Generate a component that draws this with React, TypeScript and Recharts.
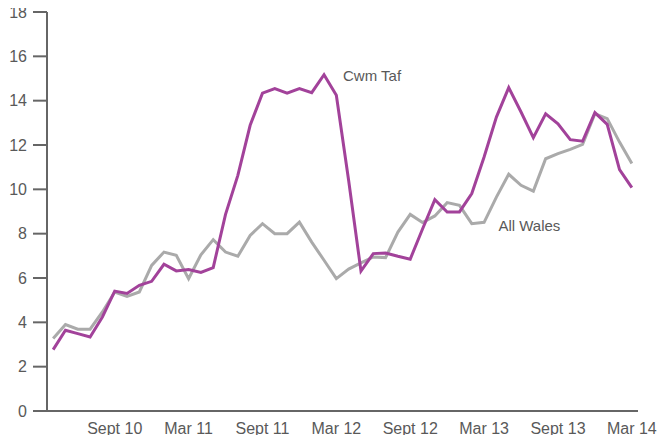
import React from 'react'
import { LineChart, Line, XAxis, YAxis } from 'recharts'

// Apr 2010 .. Mar 2014, monthly
const months = [
  'Apr 10', 'May 10', 'Jun 10', 'Jul 10', 'Aug 10', 'Sep 10', 'Oct 10', 'Nov 10', 'Dec 10', 'Jan 11', 'Feb 11', 'Mar 11',
  'Apr 11', 'May 11', 'Jun 11', 'Jul 11', 'Aug 11', 'Sep 11', 'Oct 11', 'Nov 11', 'Dec 11', 'Jan 12', 'Feb 12', 'Mar 12',
  'Apr 12', 'May 12', 'Jun 12', 'Jul 12', 'Aug 12', 'Sep 12', 'Oct 12', 'Nov 12', 'Dec 12', 'Jan 13', 'Feb 13', 'Mar 13',
  'Apr 13', 'May 13', 'Jun 13', 'Jul 13', 'Aug 13', 'Sep 13', 'Oct 13', 'Nov 13', 'Dec 13', 'Jan 14', 'Feb 14', 'Mar 14',
]

const cwmTaf = [
  2.77, 3.64, 3.49, 3.34, 4.24, 5.41, 5.3, 5.67, 5.85, 6.62, 6.32, 6.38,
  6.25, 6.47, 8.87, 10.63, 12.89, 14.34, 14.54, 14.34, 14.54, 14.36, 15.17, 14.24,
  10.4, 6.31, 7.1, 7.13, 6.98, 6.85, 8.21, 9.53, 8.98, 8.98, 9.81, 11.46,
  13.26, 14.59, 13.49, 12.33, 13.41, 12.96, 12.24, 12.17, 13.46, 12.93, 10.89, 10.08,
]

const allWales = [
  3.27, 3.9, 3.69, 3.69, 4.47, 5.37, 5.17, 5.37, 6.57, 7.17, 7.02, 5.97,
  7.05, 7.73, 7.17, 6.98, 7.92, 8.45, 8.0, 8.0, 8.52, 7.62, 6.8, 5.97,
  6.4, 6.68, 6.95, 6.92, 8.07, 8.87, 8.5, 8.8, 9.4, 9.28, 8.45, 8.51,
  9.65, 10.68, 10.18, 9.92, 11.38, 11.61, 11.8, 12.03, 13.41, 13.19, 12.13, 11.16,
]

const xTicks = [5, 11, 17, 23, 29, 35, 41, 47]
const xTickLabels = ['Sept 10', 'Mar 11', 'Sept 11', 'Mar 12', 'Sept 12', 'Mar 13', 'Sept 13', 'Mar 14']
const yTicks = [0, 2, 4, 6, 8, 10, 12, 14, 16, 18]

const data = months.map((m, i) => ({ i, month: m, cwmTaf: cwmTaf[i], allWales: allWales[i] }))

const TEXT = '#595959'
const AXIS = '#666666'

const seriesLabel = (text: string, at: number, dx: number, dy: number) => (props: any) => {
  if (props.index !== at) return null
  return (
    <text x={props.x + dx} y={props.y + dy} fill={TEXT} fontSize={15} dominantBaseline="central">
      {text}
    </text>
  )
}

const App = () => {
  return (
    <div style={{ margin: -8, fontFamily: '"Liberation Sans", Arial, sans-serif' }}>
      <LineChart width={667} height={443} data={data} margin={{ top: 12, right: 29, bottom: 0, left: 0 }}>
        <XAxis
          dataKey="i"
          type="number"
          domain={[-0.5, 47.5]}
          ticks={xTicks}
          tickFormatter={(v: number) => xTickLabels[xTicks.indexOf(v)] ?? ''}
          tickLine={false}
          tickSize={0}
          tickMargin={12}
          height={32}
          axisLine={{ stroke: AXIS, strokeWidth: 2 }}
          tick={{ fill: TEXT, fontSize: 16 }}
        />
        <YAxis
          domain={[0, 18]}
          ticks={yTicks}
          width={47}
          tickSize={14}
          tickMargin={6}
          axisLine={{ stroke: AXIS, strokeWidth: 2 }}
          tickLine={{ stroke: AXIS, strokeWidth: 2 }}
          tick={{ fill: TEXT, fontSize: 16 }}
        />
        <Line
          dataKey="allWales"
          stroke="#aaaaaa"
          strokeWidth={3}
          dot={false}
          isAnimationActive={false}
          label={seriesLabel('All Wales', 36, 2, 28)}
        />
        <Line
          dataKey="cwmTaf"
          stroke="#a2429a"
          strokeWidth={3}
          dot={false}
          isAnimationActive={false}
          label={seriesLabel('Cwm Taf', 22, 19, 1)}
        />
      </LineChart>
    </div>
  )
}

export default App
